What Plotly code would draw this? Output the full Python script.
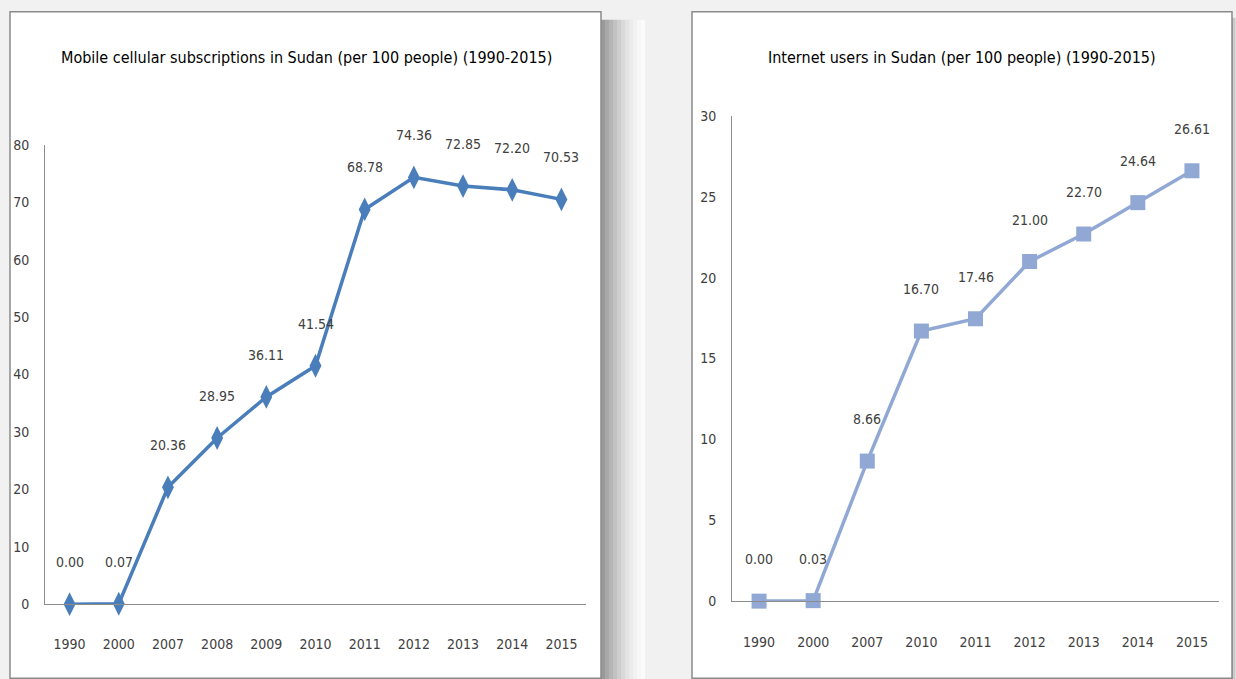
import plotly.graph_objects as go

W, H = 1236, 679

mobile_years = ["1990", "2000", "2007", "2008", "2009", "2010", "2011", "2012", "2013", "2014", "2015"]
mobile_values = [0.00, 0.07, 20.36, 28.95, 36.11, 41.54, 68.78, 74.36, 72.85, 72.20, 70.53]

internet_years = ["1990", "2000", "2007", "2010", "2011", "2012", "2013", "2014", "2015"]
internet_values = [0.00, 0.03, 8.66, 16.70, 17.46, 21.00, 22.70, 24.64, 26.61]

title_left = "Mobile cellular subscriptions in Sudan (per 100 people) (1990-2015)"
title_right = "Internet users in Sudan (per 100 people) (1990-2015)"

FONT = "Liberation Sans Narrow, Arial Narrow, DejaVu Sans Condensed, sans-serif"
TXT = "#404040"
AX = "#8c8c8c"
C1 = "#4a7ebb"
C2 = "#91a8d4"


def px(x):
    return x / W


def py(y):
    # pixel row in the final picture -> paper fraction
    return 1 - (y - 8.3) / 661.4


fig = go.Figure()

fig.add_trace(go.Scatter(
    x=mobile_years, y=mobile_values, mode="lines+markers",
    line=dict(color=C1, width=3.5),
    marker=dict(symbol="diamond-tall", size=17, color=C1),
    xaxis="x", yaxis="y", showlegend=False, cliponaxis=False,
))
fig.add_trace(go.Scatter(
    x=internet_years, y=internet_values, mode="lines+markers",
    line=dict(color=C2, width=3.5),
    marker=dict(symbol="square", size=15, color=C2),
    xaxis="x2", yaxis="y2", showlegend=False, cliponaxis=False,
))

annotations = []
for i, yv in enumerate(mobile_values):
    annotations.append(dict(x=i, y=yv, xref="x", yref="y", text=f"{yv:.2f}",
                            showarrow=False, yshift=42, xanchor="center", yanchor="middle",
                            font=dict(family=FONT, size=14, color=TXT)))
for i, yv in enumerate(internet_values):
    annotations.append(dict(x=i, y=yv, xref="x2", yref="y2", text=f"{yv:.2f}",
                            showarrow=False, yshift=42, xanchor="center", yanchor="middle",
                            font=dict(family=FONT, size=14, color=TXT)))

annotations.append(dict(x=px(306), y=py(58), xref="paper", yref="paper", text=title_left,
                        showarrow=False, xanchor="center", yanchor="middle",
                        font=dict(family=FONT, size=16, color="#000000")))
annotations.append(dict(x=px(962), y=py(58), xref="paper", yref="paper", text=title_right,
                        showarrow=False, xanchor="center", yanchor="middle",
                        font=dict(family=FONT, size=16, color="#000000")))

shapes = []
shadow_cols = ["#9a9a9a", "#a8a8a8", "#b5b5b5", "#c2c2c2", "#cecece", "#d9d9d9",
               "#e3e3e3", "#ebebeb", "#f2f2f2", "#f7f7f7", "#fbfbfb"]
x0 = 601
for i, c in enumerate(shadow_cols):
    shapes.append(dict(type="rect", xref="paper", yref="paper",
                       x0=px(x0 + i * 4), x1=px(x0 + i * 4 + 4), y0=py(690), y1=py(20),
                       fillcolor=c, line=dict(width=0), layer="below"))
for i, c in enumerate(["#b0b0b0", "#c8c8c8", "#dcdcdc"]):
    shapes.append(dict(type="rect", xref="paper", yref="paper",
                       x0=px(1232 + i * 1.5), x1=px(1233.5 + i * 1.5), y0=py(690), y1=py(18),
                       fillcolor=c, line=dict(width=0), layer="below"))
shapes.append(dict(type="rect", xref="paper", yref="paper",
                   x0=px(10), x1=px(601), y0=py(677), y1=py(12),
                   fillcolor="#ffffff", line=dict(color="#8a8a8a", width=1.5), layer="below"))
shapes.append(dict(type="rect", xref="paper", yref="paper",
                   x0=px(692), x1=px(1232), y0=py(677), y1=py(12),
                   fillcolor="#ffffff", line=dict(color="#8a8a8a", width=1.5), layer="below"))

axis_common = dict(showgrid=False, zeroline=False, showline=True, linecolor=AX, linewidth=1,
                   tickfont=dict(family=FONT, size=14, color=TXT), ticks="")

fig.update_layout(
    width=W, height=H, margin=dict(l=0, r=0, t=0, b=0),
    paper_bgcolor="#f1f1f1", plot_bgcolor="rgba(0,0,0,0)",
    xaxis=dict(domain=[px(45), px(586)], anchor="y", type="category",
               range=[-0.5, len(mobile_years) - 0.5], ticklabelstandoff=27, **axis_common),
    yaxis=dict(domain=[py(603), py(145)], anchor="x", range=[0, 80], dtick=10,
               ticklabelstandoff=12, **axis_common),
    xaxis2=dict(domain=[px(732), px(1219)], anchor="y2", type="category",
                range=[-0.5, len(internet_years) - 0.5], ticklabelstandoff=28, **axis_common),
    yaxis2=dict(domain=[py(600), py(116)], anchor="x2", range=[0, 30], dtick=5,
                ticklabelstandoff=12, **axis_common),
    annotations=annotations, shapes=shapes,
)

post = (
    "document.documentElement.style.margin='0';"
    "document.documentElement.style.overflow='hidden';"
    "document.body.style.margin='0';document.body.style.padding='0';"
    "document.body.style.overflow='hidden';"
    "var gd=document.getElementById('{plot_id}');"
    "gd.style.position='fixed';gd.style.left='0px';gd.style.top='0px';"
)
fig.write_html("out.html", post_script=post, config={"displayModeBar": False})
